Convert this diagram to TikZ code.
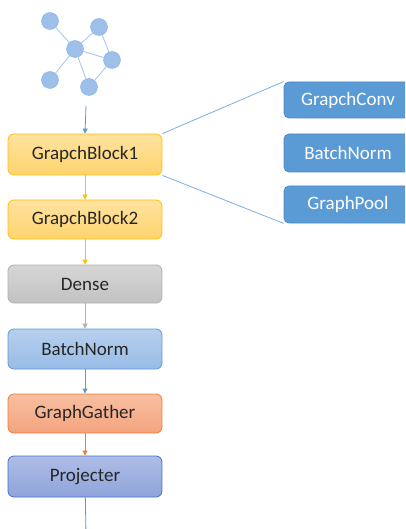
\documentclass[tikz,border=0pt]{standalone}
\usepackage{fontspec}
\setmainfont{Carlito}
\usetikzlibrary{arrows.meta}
\definecolor{gbord}{HTML}{FFC000}
\definecolor{gtop}{HTML}{FFE3A0}
\definecolor{gbot}{HTML}{FFD36E}
\definecolor{dtop}{HTML}{D6D6D6}
\definecolor{dbot}{HTML}{C2C2C2}
\definecolor{dbord}{HTML}{B0B0B0}
\definecolor{btop}{HTML}{B7D0EE}
\definecolor{bbot}{HTML}{98BCE6}
\definecolor{bbord}{HTML}{5B9BD5}
\definecolor{otop}{HTML}{F8BFA2}
\definecolor{obot}{HTML}{F4A47E}
\definecolor{obord}{HTML}{ED7D31}
\definecolor{ptop}{HTML}{AEBDE6}
\definecolor{pbot}{HTML}{8FA4DA}
\definecolor{pbord}{HTML}{4472C4}
\definecolor{rfill}{HTML}{5B9BD5}
\definecolor{rbord}{HTML}{4A88C6}
\definecolor{gnode}{HTML}{9DC0E8}
\definecolor{gedge}{HTML}{A9C9EC}
\tikzset{
  x=1pt, y=-1pt,
  mainbox/.style={rounded corners=6pt, minimum width=154pt, line width=0.8pt, font=\fontsize{19}{22}\selectfont, text=black!85, inner sep=0pt},
  sidebox/.style={rounded corners=5pt, minimum width=128pt, fill=rfill, draw=rbord, line width=0.8pt, text=white, font=\fontsize{19}{22}\selectfont, inner sep=0pt},
  gv/.style={circle, minimum size=17pt, inner sep=0pt, fill=gnode, draw=gnode!90!blue, line width=0.4pt},
  ge/.style={draw=gedge, line width=0.9pt},
  flow/.style={-{Triangle[length=5pt,width=5pt]}, line width=0.8pt},
  link/.style={draw=bbord!80, line width=0.8pt}
}
\begin{document}
\begin{tikzpicture}
\useasboundingbox (0,0) rectangle (405,529);
\clip (0,0) rectangle (405,529);
% graph
\node[gv] (v1) at (50,21) {};
\node[gv] (v2) at (99,27) {};
\node[gv] (v3) at (75,49) {};
\node[gv] (v4) at (112,60) {};
\node[gv] (v5) at (50,80) {};
\node[gv] (v6) at (89,87) {};
\path[ge] (v1) -- (v3) (v2) -- (v3) (v2) -- (v4) (v3) -- (v4) (v3) -- (v5) (v3) -- (v6) (v6) -- (v4);
% main chain
\node[mainbox, minimum height=41pt, top color=gtop, bottom color=gbot, draw=gbord] (b1) at (85,154.5) {GrapchBlock1};
\node[mainbox, minimum height=39pt, top color=gtop, bottom color=gbot, draw=gbord] (b2) at (85,219.5) {GrapchBlock2};
\node[mainbox, minimum height=38pt, top color=dtop, bottom color=dbot, draw=dbord] (d) at (85,284) {Dense};
\node[mainbox, minimum height=40pt, top color=btop, bottom color=bbot, draw=bbord] (bn) at (85,349) {BatchNorm};
\node[mainbox, minimum height=39pt, top color=otop, bottom color=obot, draw=obord] (gg) at (85,413.5) {GraphGather};
\node[mainbox, minimum height=41pt, top color=ptop, bottom color=pbot, draw=pbord] (pj) at (85,476.5) {Projecter};
\coordinate (gtop) at (86,106);
\coordinate (pend) at (86,535);
% side boxes
\node[sidebox, minimum height=36pt] (s1) at (348,100) {GrapchConv};
\node[sidebox, minimum height=38pt] (s2) at (348,153) {BatchNorm};
\node[sidebox, minimum height=37pt] (s3) at (348,204.5) {GraphPool};
% arrows
\draw[flow, draw=bbord, fill=bbord] (gtop) -- (b1.north);
\draw[flow, draw=gbord, fill=gbord] (b1) -- (b2);
\draw[flow, draw=gbord, fill=gbord] (b2) -- (d);
\draw[flow, draw=dbord, fill=dbord] (d) -- (bn);
\draw[flow, draw=bbord, fill=bbord] (bn) -- (gg);
\draw[flow, draw=obord, fill=obord] (gg) -- (pj);
\draw[flow, draw=bbord, fill=bbord] (pj) -- (pend);
% links
\draw[link] (b1.north east) -- (s1.north west);
\draw[link] (b1.south east) -- (s3.south west);
\end{tikzpicture}
\end{document}
